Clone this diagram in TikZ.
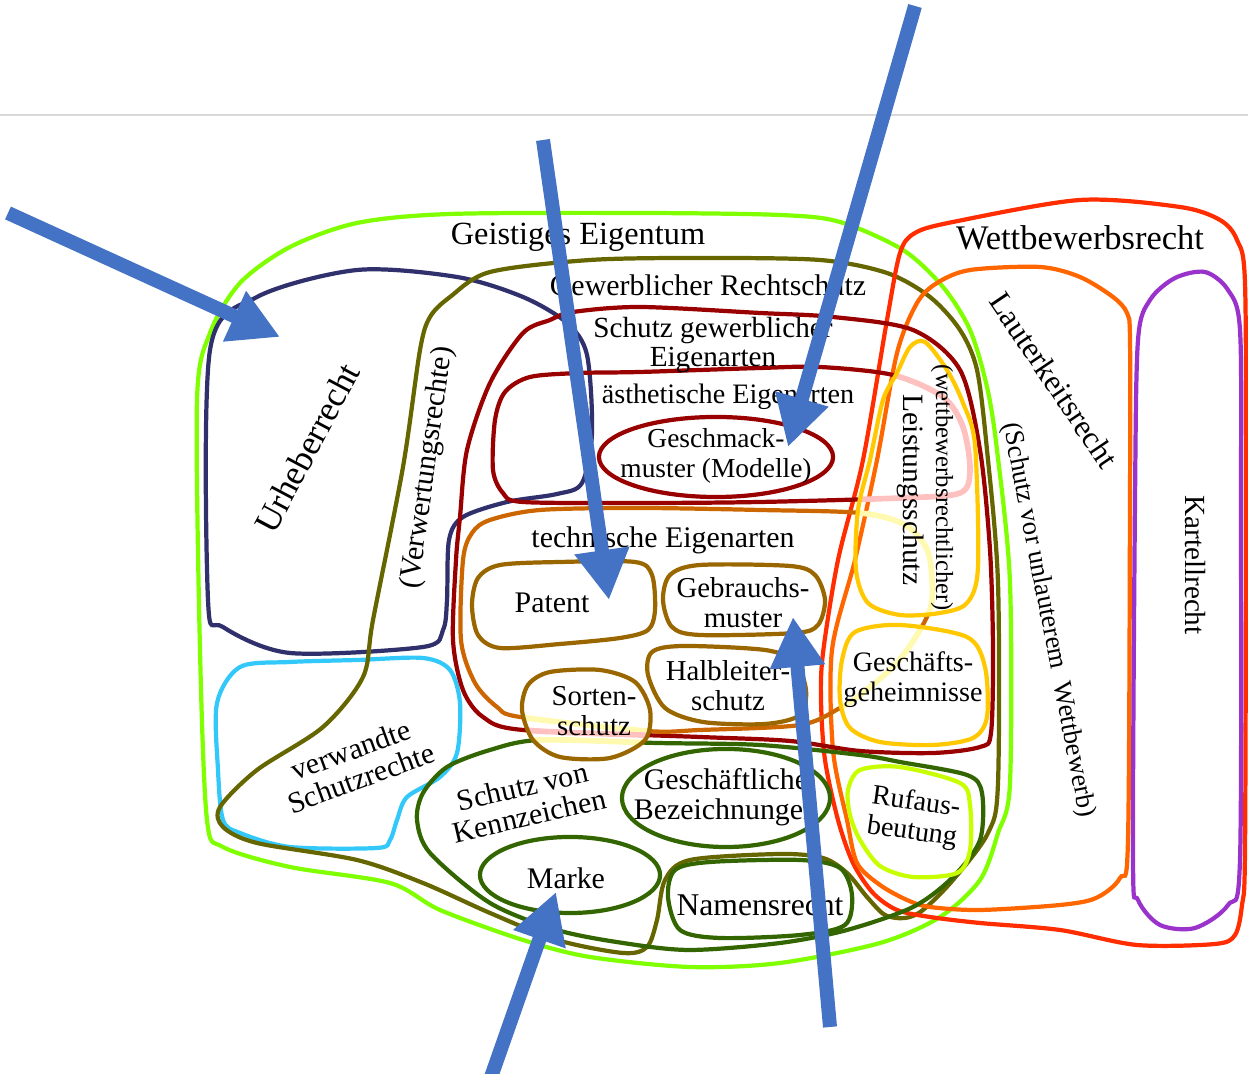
\documentclass[tikz,border=0pt]{standalone}
\usepackage{fontspec}
\setmainfont{Liberation Serif}
\usepackage{tikz}
\usetikzlibrary{arrows.meta}
\usepackage{xcolor}

\definecolor{geistig}{RGB}{128,255,0}
\definecolor{gewerbl}{RGB}{102,102,0}
\definecolor{urheber}{RGB}{48,48,108}
\definecolor{verwandt}{RGB}{51,200,250}
\definecolor{eigenart}{RGB}{153,0,0}
\definecolor{technisch}{RGB}{204,102,0}
\definecolor{braun}{RGB}{153,102,0}
\definecolor{kennz}{RGB}{51,102,0}
\definecolor{wettbew}{RGB}{255,45,0}
\definecolor{lauter}{RGB}{255,102,0}
\definecolor{kartell}{RGB}{153,51,204}
\definecolor{leistung}{RGB}{255,200,0}
\definecolor{ruf}{RGB}{200,255,0}
\definecolor{blassrot}{RGB}{255,192,192}
\definecolor{hellgelb}{RGB}{255,250,175}
\definecolor{pfeilblau}{RGB}{68,114,196}

\begin{document}
\begin{tikzpicture}[x=0.01cm,y=-0.01cm,line width=1.2pt,
	txt/.style={font=\fontsize{#1}{8.5}\selectfont,align=center,inner sep=0pt},txt/.default=8.5]
	\useasboundingbox (0,0) rectangle (1248,1074);
	\coordinate (l1) at (0,115);
	\coordinate (l2) at (1248,115);
	\draw[line width=0.4pt,black!15] (l1) -- (l2);

	\def\pGeistig{plot[smooth cycle] coordinates {(200,650) (197,400) (210,333) (240,283) (290,247) (357,223) (450,214) (640,213) (780,215) (840,222) (903,250) (943,287) (970,330) (987,387) (997,450) (1010,583) (1010,783) (998,833) (980,880) (940,917) (880,943) (780,963) (690,967) (590,957) (523,940) (440,910) (390,883) (290,867) (223,847) (207,820)}}
	\def\pGewerbl{plot[smooth cycle] coordinates {(420,350) (430,317) (450,297) (490,272) (590,260) (700,258) (820,260) (887,273) (930,297) (960,330) (977,370) (987,450) (998,583) (998,783) (988,833) (953,880) (923,910) (905,918) (885,915) (867,897) (847,873) (823,858) (780,854) (690,860) (665,880) (657,920) (647,947) (623,953) (557,940) (490,913) (423,883) (357,860) (257,843) (223,827) (220,807) (257,770) (323,727) (363,677) (373,620) (403,467)}}
	\def\pUrheber{plot[smooth cycle] coordinates {(208,600) (210,350) (257,297) (357,270) (457,277) (523,297) (567,323) (587,355) (592,433) (582,483) (557,494) (507,502) (463,517) (449,540) (447,600) (443,630) (423,647) (290,653) (223,627)}}
	\def\pVerwandt{plot[smooth cycle] coordinates {(217,703) (240,667) (290,662) (357,660) (423,658) (450,670) (460,703) (457,753) (440,777) (407,797) (397,820) (390,840) (377,848) (290,847) (240,833) (223,820) (218,770)}}
	\def\pSchutz{plot[smooth cycle] coordinates {(456,560) (460,517) (467,450) (490,383) (523,333) (550,320) (573,312) (640,307) (760,313) (833,317) (913,330) (960,370) (980,450) (990,550) (993,650) (991,733) (980,747) (933,753) (860,751) (790,741) (700,737) (523,730) (483,717) (463,690) (453,640)}}
	\def\pAesth{plot[smooth cycle] coordinates {(493,470) (495,420) (505,392) (530,377) (580,373) (640,372) (760,368) (820,367) (893,375) (943,397) (963,427) (970,470) (960,493) (900,498) (760,502) (640,503) (523,502) (503,493)}}
	\def\pTech{plot[smooth cycle] coordinates {(463,560) (472,533) (490,520) (540,510) (640,508) (760,510) (860,513) (905,525) (928,552) (932,600) (920,630) (895,665) (860,695) (840,708) (800,725) (700,730) (647,731) (520,717) (497,707) (475,683) (461,640)}}
	\def\pKenn{plot[smooth cycle] coordinates {(417,820) (423,793) (447,767) (490,750) (540,740) (657,743) (760,745) (860,755) (900,762) (967,775) (982,793) (980,840) (953,877) (913,907) (847,930) (780,943) (690,950) (623,943) (557,930) (490,903) (430,853)}}
	\def\pLeist{plot[smooth cycle] coordinates {(870,460) (883,400) (897,373) (910,347) (925,342) (947,370) (963,403) (975,445) (978,567) (967,603) (940,613) (900,615) (868,603) (856,570) (858,510)}}
	\def\pGeheim{plot[smooth cycle] coordinates {(842,660) (855,632) (900,625) (967,637) (985,667) (987,717) (973,738) (933,745) (880,742) (850,728) (840,700)}}
	\def\pRuf{plot[smooth cycle] coordinates {(848,790) (860,770) (900,767) (960,783) (970,805) (970,850) (957,873) (913,877) (880,866) (860,840) (850,815)}}
	\def\pSorten{plot[smooth cycle] coordinates {(522,710) (528,685) (550,672) (600,670) (635,682) (650,710) (645,740) (610,758) (560,757) (533,740)}}
	\def\pPatent{plot[smooth cycle] coordinates {(472,605) (478,578) (500,565) (560,562) (635,562) (652,575) (655,610) (648,630) (620,638) (560,644) (500,648) (478,635)}}
	\def\pGebrauch{plot[smooth cycle] coordinates {(663,600) (670,575) (700,565) (790,566) (815,575) (825,600) (818,625) (795,633) (700,635) (672,627)}}
	\def\pHalbl{plot[smooth cycle] coordinates {(648,675) (652,652) (683,646) (765,650) (795,662) (806,690) (800,715) (765,724) (703,722) (665,708)}}
	\def\pNamen{plot[smooth cycle] coordinates {(668,897) (675,870) (710,862) (800,860) (840,868) (852,895) (845,925) (800,935) (720,938) (680,930)}}
	\def\pWettbew{plot[smooth cycle] coordinates {(887,320) (900,253) (915,233) (953,222) (1080,200) (1180,207) (1220,220) (1237,240) (1245,283) (1246,500) (1245,850) (1242,905) (1235,935) (1215,944) (1137,945) (1060,930) (980,923) (930,917) (897,910) (873,893) (853,863) (838,820) (825,760) (821,700) (823,653) (838,560) (863,460)}}
	\def\pLauter{plot[smooth cycle] coordinates {(877,460) (897,353) (917,303) (937,283) (970,270) (1040,267) (1080,277) (1113,297) (1127,313) (1130,340) (1130,500) (1128,840) (1120,878) (1096,898) (1060,905) (980,910) (930,907) (907,900) (880,885) (857,863) (847,820) (833,750) (832,650) (855,560)}}
	\def\pKartell{plot[smooth cycle] coordinates {(1135,500) (1138,340) (1150,300) (1175,278) (1205,272) (1228,290) (1240,330) (1241,500) (1240,860) (1228,905) (1195,928) (1160,925) (1138,900) (1133,860)}}

	\draw[geistig] \pGeistig;
	\draw[verwandt] \pVerwandt;
	\draw[urheber] \pUrheber;
	\draw[gewerbl] \pGewerbl;
	\draw[wettbew] \pWettbew;
	\draw[lauter] \pLauter;
	\draw[kartell] \pKartell;
	\draw[eigenart] \pSchutz;
	\draw[eigenart] \pAesth;
	\draw[technisch] \pTech;
	\draw[kennz] \pKenn;

	\begin{scope}
		\clip \pLeist;
		\draw[blassrot,line width=1.6pt] \pAesth;
		\draw[hellgelb,line width=1.6pt] \pTech;
	\end{scope}
	\begin{scope}
		\clip \pGeheim;
		\draw[hellgelb,line width=1.6pt] \pTech;
	\end{scope}
	\begin{scope}
		\clip \pSorten;
		\draw[hellgelb,line width=1.6pt] \pTech;
		\draw[blassrot,line width=1.6pt] \pSchutz;
		\draw[hellgelb,line width=1.6pt] \pKenn;
	\end{scope}

	\draw[leistung] \pLeist;
	\draw[leistung] \pGeheim;
	\draw[ruf] \pRuf;
	\draw[braun] \pSorten;
	\draw[braun] \pPatent;
	\draw[braun] \pGebrauch;
	\draw[braun] \pHalbl;
	\draw[kennz] \pNamen;
	\draw[eigenart] (716,457) ellipse [x radius=1.17cm, y radius=0.4cm];
	\draw[kennz] (726,798) ellipse [x radius=1.04cm, y radius=0.49cm];
	\draw[kennz] (570,875) ellipse [x radius=0.9cm, y radius=0.38cm];

	\node[txt=9.2] (ge) at (578,237) {Geistiges Eigentum};
	\node[txt] (gr) at (708,285) {Gewerblicher Rechtschutz};
	\node[txt=8.3] (sge) at (713,345) {Schutz gewerblicher\\Eigenarten};
	\node[txt=8] (ae) at (728,397) {ästhetische Eigenarten};
	\node[txt=7.8] (gm) at (716,456) {Geschmack-\\muster (Modelle)};
	\node[txt] (te) at (663,540) {technische Eigenarten};
	\node[txt] (pat) at (552,603) {Patent};
	\node[txt=8.2] (gbm) at (743,603) {Gebrauchs-\\muster};
	\node[txt=8.2] (hl) at (728,686) {Halbleiter-\\schutz};
	\node[txt=8.2] (so) at (594,711) {Sorten-\\schutz};
	\node[txt=10,rotate=62] (ur) at (307,448) {Urheberrecht};
	\node[txt,rotate=82] (vr) at (428,468) {(Verwertungsrechte)};
	\node[txt,rotate=20] (vs) at (356,764) {verwandte\\Schutzrechte};
	\node[txt,rotate=13] (kz) at (526,801) {Schutz von\\Kennzeichen};
	\node[txt=8.5] (gb) at (726,797) {Geschäftliche\\Bezeichnungen};
	\node[txt] (mk) at (566,878) {Marke};
	\node[txt=9] (nr) at (760,905) {Namensrecht};
	\node[txt=8,rotate=-8] (rb) at (914,818) {Rufaus-\\beutung};
	\node[txt=8] (gg) at (913,680) {Geschäfts-\\geheimnisse};
	\node[txt=8.4,rotate=-90] (ls) at (911,490) {Leistungsschutz};
	\node[txt=7,rotate=-90] (wr) at (942,488) {(wettbewerbsrechtlicher)};
	\node[txt=9.8] (wb) at (1080,238) {Wettbewerbsrecht};
	\node[txt=8.9,rotate=-56] (lk) at (1054,380) {Lauterkeitsrecht};
	\node[txt=7.6,rotate=-79] (sv) at (1048,620) {(Schutz vor unlauterem\hspace{0.5em}Wettbewerb)};
	\node[txt=8.3,rotate=-90] (kr) at (1195,565) {Kartellrecht};

	\tikzset{pfeil/.style={draw=pfeilblau,line width=0.14cm,-{Triangle[length=0.5cm,width=0.52cm]}}}
	\coordinate (p1s) at (8,213);
	\coordinate (p1) at (280,337);
	\coordinate (p2s) at (543,140);
	\coordinate (p2) at (609,600);
	\coordinate (p3s) at (915,6);
	\coordinate (p3) at (788,447);
	\coordinate (p4s) at (830,1027);
	\coordinate (p4) at (793,617);
	\coordinate (p5s) at (490,1080);
	\coordinate (p5) at (556,892);
	\draw[pfeil] (p1s) -- (p1);
	\draw[pfeil] (p2s) -- (p2);
	\draw[pfeil] (p3s) -- (p3);
	\draw[pfeil] (p4s) -- (p4);
	\draw[pfeil] (p5s) -- (p5);
\end{tikzpicture}
\end{document}
